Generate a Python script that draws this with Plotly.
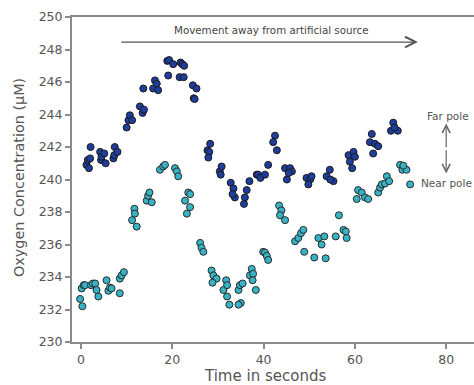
import plotly.graph_objects as go

# Far pole (dark blue) readings: time (s), O2 (uM)
far_t = [1.2, 1.5, 1.75, 2.0, 2.1, 4.2, 4.4, 4.5, 5.1, 5.4, 7.1, 7.3, 7.4, 8.0,
         10.0, 10.4, 10.7, 11.2, 12.9, 13.5, 13.8, 13.65, 15.8, 16.2, 16.6, 16.9,
         18.9, 19.3, 20.2, 19.1, 21.8, 22.2, 22.6, 21.6, 22.5, 24.5, 25.3, 24.7, 24.9,
         27.7, 28.3, 28.1, 27.9, 30.4, 30.8, 30.6,
         32.8, 33.4, 33.7, 33.2, 35.7, 35.9, 36.3, 36.9, 38.5, 38.8, 39.3, 40.3, 41.0,
         42.5, 42.1, 42.9, 44.7, 45.8, 46.2, 45.1, 45.5,
         49.4, 50.2, 50.5, 49.8, 54.5, 53.8, 55.3, 54.6,
         58.6, 59.7, 60.0, 58.9, 59.4, 63.7, 63.3, 64.4, 65.1, 64.0,
         68.4, 67.9, 69.4, 68.7]
far_v = [240.9, 241.2, 240.7, 241.3, 242.0, 241.7, 241.2, 241.4, 241.6, 241.0, 241.3, 241.5, 242.0, 241.7,
         243.2, 243.65, 243.95, 243.65, 244.5, 244.1, 244.3, 245.6, 245.6, 246.1, 245.9, 245.5,
         247.3, 247.35, 247.1, 246.4, 247.2, 247.1, 247.0, 246.3, 246.3, 245.8, 245.6, 245.0, 244.95,
         241.8, 242.2, 241.7, 241.35, 240.5, 240.8, 240.3,
         239.8, 239.45, 238.9, 239.1, 238.5, 238.9, 239.35, 239.9, 240.3, 240.3, 240.1, 240.3, 240.9,
         242.7, 242.3, 241.8, 240.7, 240.7, 240.5, 240.0, 240.4,
         240.1, 240.0, 240.2, 239.7, 240.6, 240.2, 239.9, 240.0,
         241.5, 241.7, 241.4, 241.1, 240.7, 242.8, 242.3, 242.2, 242.05, 241.6,
         243.5, 243.0, 243.0, 243.2]

# Near pole (cyan) readings
near_t = [-0.2, 0.3, 0.15, 0.6, 0.9, 2.2, 2.6, 3.1, 3.4, 3.8, 5.6, 6.0, 6.35, 6.7, 8.5, 8.5, 8.9, 9.4,
          11.2, 11.7, 11.8, 12.2, 14.4, 14.7, 15.0, 15.5,
          17.3, 18.0, 18.4, 20.6, 21.0, 21.3,
          22.8, 23.2, 23.5, 23.9, 23.9, 26.1, 26.4, 26.8,
          28.6, 29.0, 29.7, 28.8, 31.2, 31.8, 32.0, 32.0, 32.5,
          34.5, 34.8, 35.4, 35.0, 34.5, 37.0, 37.4, 37.7, 37.6, 38.3,
          39.9, 40.3, 40.7, 41.0, 43.4, 43.9, 43.6, 44.7,
          46.9, 47.6, 48.2, 48.7, 48.9, 51.1, 53.6, 52.0, 52.7, 53.3,
          55.8, 56.5, 57.5, 58.0, 58.2, 60.4, 60.7, 61.5, 62.2, 62.9,
          65.1, 65.5, 65.9, 66.6, 67.0, 67.5, 69.9, 70.4, 71.3, 70.6, 72.1]
near_v = [232.65, 232.2, 233.3, 233.5, 233.5, 233.5, 233.6, 233.6, 233.2, 232.8, 233.8, 233.15, 233.35, 233.3, 233.0, 233.9, 234.1, 234.3,
          237.5, 238.2, 237.9, 237.1, 238.7, 239.0, 239.2, 238.6,
          240.6, 240.8, 240.9, 240.7, 240.5, 240.2,
          238.7, 237.9, 239.2, 239.1, 238.3, 236.1, 235.8, 235.55,
          234.4, 234.1, 233.9, 233.65, 233.2, 233.8, 233.5, 232.8, 232.3,
          233.2, 233.5, 233.6, 232.4, 232.3, 234.1, 234.5, 234.2, 233.8, 233.2,
          235.55, 235.5, 235.3, 235.05, 238.4, 238.1, 237.8, 237.5,
          236.2, 236.4, 236.7, 236.9, 235.55, 235.2, 235.15, 236.4, 236.0, 236.5,
          236.5, 237.8, 236.9, 236.8, 236.4, 238.8, 239.35, 239.2, 238.9, 238.8,
          239.2, 239.5, 239.7, 239.75, 240.2, 239.9, 240.9, 240.6, 240.6, 240.85, 239.7]

y_ticks = [230, 232, 234, 236, 238, 240, 242, 244, 246, 248, 250]
x_ticks = [0, 20, 40, 60, 80]

FONT = "DejaVu Sans"
GREY_TXT = "#555555"
AXIS = "#8a8a8a"

fig = go.Figure()
fig.add_trace(go.Scatter(x=near_t, y=near_v, mode="markers",
                         marker=dict(size=7, color="#36b4c6", line=dict(color="#2a2a2a", width=1))))
fig.add_trace(go.Scatter(x=far_t, y=far_v, mode="markers",
                         marker=dict(size=7, color="#1f3d9c", line=dict(color="#1a1a1a", width=1))))

# Movement arrow
fig.add_annotation(x=73.8, y=248.46, ax=8.5, ay=248.46, xref="x", yref="y", axref="x", ayref="y",
                   text="", showarrow=True, arrowhead=5, arrowsize=1.6, arrowwidth=1.3, arrowcolor="#555555")
fig.add_annotation(x=41.8, y=249.2, xref="x", yref="y", text="Movement away from artificial source",
                   showarrow=False, font=dict(family=FONT, size=10.3, color="#444444"))
# Far/near pole double arrow
fig.add_annotation(x=80, y=243.45, ax=80, ay=241.9, xref="x", yref="y", axref="x", ayref="y",
                   text="", showarrow=True, arrowhead=5, arrowsize=1.3, arrowwidth=1.2, arrowcolor="#666666")
fig.add_annotation(x=80, y=240.37, ax=80, ay=241.9, xref="x", yref="y", axref="x", ayref="y",
                   text="", showarrow=True, arrowhead=5, arrowsize=1.3, arrowwidth=1.2, arrowcolor="#666666")
fig.add_annotation(x=80.4, y=243.9, xref="x", yref="y", text="Far pole", showarrow=False,
                   font=dict(family=FONT, size=10.5, color="#555555"))
fig.add_annotation(x=80.0, y=239.8, xref="x", yref="y", text="Near pole", showarrow=False,
                   font=dict(family=FONT, size=10.5, color="#555555"))

# Axis titles
fig.add_annotation(x=0.48, y=-0.1031, xref="paper", yref="paper", text="Time in seconds",
                   xanchor="center", yanchor="middle",
                   showarrow=False, font=dict(family=FONT, size=15, color=GREY_TXT))
fig.add_annotation(x=-0.1318, y=0.5046, xref="paper", yref="paper", text="Oxygen Concentration (µM)",
                   xanchor="center", yanchor="middle",
                   textangle=-90, showarrow=False, font=dict(family=FONT, size=14.4, color=GREY_TXT))

fig.update_layout(
    width=474, height=385,
    margin=dict(l=72, r=0, t=17, b=43),
    paper_bgcolor="white", plot_bgcolor="white",
    showlegend=False,
    font=dict(family=FONT, color=GREY_TXT),
    xaxis=dict(range=[-1.97, 86.09], tickvals=x_ticks, showgrid=False, zeroline=False,
               showline=True, linecolor=AXIS, linewidth=2, mirror=True,
               ticks="outside", ticklen=5, tickwidth=1.5, tickcolor=AXIS,
               tickfont=dict(family=FONT, size=12.5, color=GREY_TXT)),
    yaxis=dict(range=[230, 250], tickvals=y_ticks, showgrid=False, zeroline=False,
               showline=True, linecolor=AXIS, linewidth=2,
               ticks="outside", ticklen=5, tickwidth=1.5, tickcolor=AXIS,
               tickfont=dict(family=FONT, size=12.5, color=GREY_TXT)),
)

fig.write_html("out.html")
